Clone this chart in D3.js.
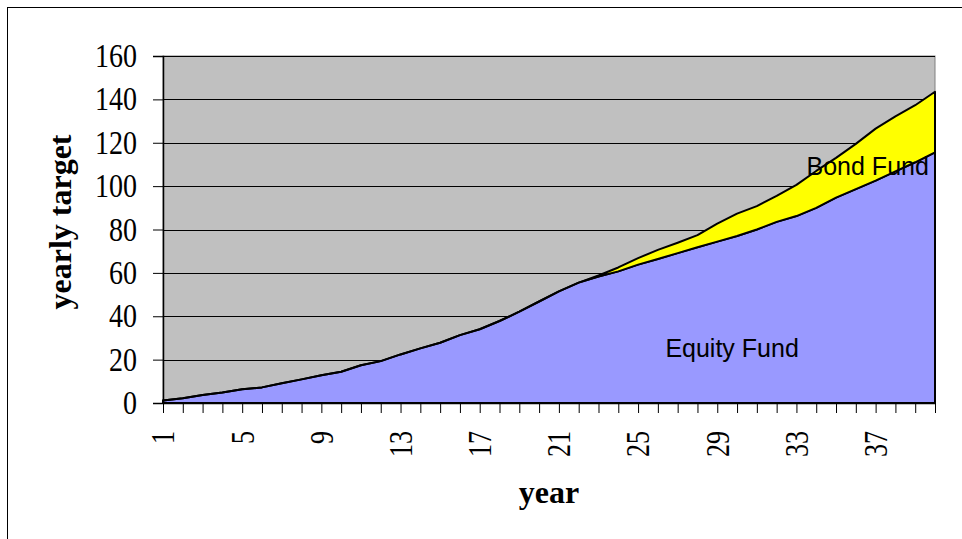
<!DOCTYPE html>
<html>
<head>
<meta charset="utf-8">
<script src="https://cdn.jsdelivr.net/npm/d3@7"></script>
<style>
  body { margin: 0; background: #fff; }
  svg { display: block; }
</style>
</head>
<body>
<svg></svg>
<script>
// values
var years = d3.range(1, 41)
var equity = [1.1, 2.2, 3.7, 4.8, 6.3, 7.2, 9.1, 10.9, 12.8, 14.4,
  17.4, 19.3, 22.4, 25.2, 27.8, 31.3, 34, 37.8, 42.1, 46.8,
  51.5, 55.5, 58.3, 60.7, 63.8, 66.4, 69.1, 71.8, 74.4, 77,
  80, 83.5, 86.2, 90, 94.7, 98.6, 102.5, 106.8, 111, 115.6]
var bond = [0, 0, 0, 0, 0, 0, 0, 0, 0, 0,
  0, 0, 0, 0, 0, 0, 0, 0, 0, 0,
  0, 0, 0.5, 1.8, 3, 4.2, 4.8, 5.6, 8.3, 10.3,
  10.8, 12, 14.4, 17, 18.3, 20.9, 24, 25.4, 26.3, 27.9]
var seriesNames = ['Equity Fund', 'Bond Fund']
var seriesColors = ['#9999ff', '#ffff00']
var yTicks = [0, 20, 40, 60, 80, 100, 120, 140, 160]

var width = 962
var height = 539
var margin = { top: 56, right: 27, bottom: 136, left: 163 }

var rows = years.map((y, i) => ({ year: y, 'Equity Fund': equity[i], 'Bond Fund': bond[i] }))
var stacked = d3.stack().keys(seriesNames)(rows)

var x = d3
  .scaleLinear()
  .domain([1, 40])
  .range([margin.left, width - margin.right])

var y = d3
  .scaleLinear()
  .domain([0, 160])
  .range([height - margin.bottom, margin.top])

var svg = d3.select('svg').attr('width', width).attr('height', height)

// outer chart frame (runs off the right and bottom edges)
svg
  .append('rect')
  .attr('x', 7.5)
  .attr('y', 7.5)
  .attr('width', 1000)
  .attr('height', 600)
  .attr('fill', '#fff')
  .attr('stroke', '#000')

// plot background
svg
  .append('rect')
  .attr('x', margin.left)
  .attr('y', margin.top)
  .attr('width', width - margin.right - margin.left)
  .attr('height', height - margin.bottom - margin.top)
  .attr('fill', '#c0c0c0')
  .attr('stroke', '#808080')

// gridlines
svg
  .append('g')
  .selectAll('line')
  .data(yTicks.slice(1))
  .enter()
  .append('line')
  .attr('x1', margin.left)
  .attr('x2', width - margin.right)
  .attr('y1', d => Math.round(y(d)) + 0.5)
  .attr('y2', d => Math.round(y(d)) + 0.5)
  .attr('stroke', '#000')

var area = d3
  .area()
  .x(d => x(d.data.year))
  .y0(d => y(d[0]))
  .y1(d => y(d[1]))

svg
  .append('g')
  .selectAll('path')
  .data(stacked)
  .enter()
  .append('path')
  .attr('d', area)
  .attr('fill', (d, i) => seriesColors[i])
  .attr('stroke', '#000')
  .attr('stroke-width', 2)
  .attr('stroke-linejoin', 'round')

// axes
var yAxis = g =>
  g
    .attr('transform', `translate(${margin.left},0)`)
    .call(
      d3
        .axisLeft(y)
        .tickValues(yTicks)
        .tickSize(10)
        .tickPadding(16)
    )
    .call(g => g.select('.domain').attr('stroke', '#000').attr('stroke-width', 1.5))
    .call(g => g.selectAll('.tick line').attr('stroke', '#000'))
    .call(g =>
      g
        .selectAll('.tick text')
        .attr('font-family', '"Liberation Serif", "Times New Roman", serif')
        .attr('font-size', 33)
        .attr('fill', '#000')
        .attr('textLength', d => String(d).length * 14)
        .attr('lengthAdjust', 'spacingAndGlyphs')
    )

var xAxis = g =>
  g
    .attr('transform', `translate(0,${height - margin.bottom})`)
    .call(
      d3
        .axisBottom(x)
        .tickValues(years)
        .tickSize(10)
        .tickSizeOuter(0)
        .tickFormat(d => ((d - 1) % 4 === 0 ? d : ''))
    )
    .call(g => g.select('.domain').attr('stroke', '#000').attr('stroke-width', 1.5))
    .call(g => g.selectAll('.tick line').attr('stroke', '#000'))
    .call(g =>
      g
        .selectAll('.tick text')
        .attr('transform', 'rotate(-90)')
        .attr('x', -28)
        .attr('y', 0)
        .attr('dy', '0.33em')
        .attr('text-anchor', 'end')
        .attr('font-family', '"Liberation Serif", "Times New Roman", serif')
        .attr('font-size', 33)
        .attr('fill', '#000')
        .attr('textLength', d => ((d - 1) % 4 === 0 ? String(d).length * 13 : null))
        .attr('lengthAdjust', 'spacingAndGlyphs')
    )

svg.append('g').call(xAxis)
svg.append('g').call(yAxis)

// axis titles
svg
  .append('text')
  .attr('x', 549)
  .attr('y', 503)
  .attr('text-anchor', 'middle')
  .attr('font-family', '"Liberation Serif", "Times New Roman", serif')
  .attr('font-weight', 'bold')
  .attr('font-size', 32)
  .text('year')

svg
  .append('text')
  .attr('transform', 'translate(71,222) rotate(-90)')
  .attr('text-anchor', 'middle')
  .attr('font-family', '"Liberation Serif", "Times New Roman", serif')
  .attr('font-weight', 'bold')
  .attr('font-size', 32)
  .text('yearly target')

// series labels
var labelSpots = [{ name: 'Equity Fund', year: 29.75, value: 21 }, { name: 'Bond Fund', year: 36.6, value: 105 }]

svg
  .append('g')
  .selectAll('text')
  .data(labelSpots)
  .enter()
  .append('text')
  .attr('x', d => x(d.year))
  .attr('y', d => y(d.value))
  .attr('text-anchor', 'middle')
  .attr('font-family', '"Liberation Sans", Arial, sans-serif')
  .attr('font-size', 25)
  .attr('fill', '#000')
  .text(d => d.name)
</script>
</body>
</html>
